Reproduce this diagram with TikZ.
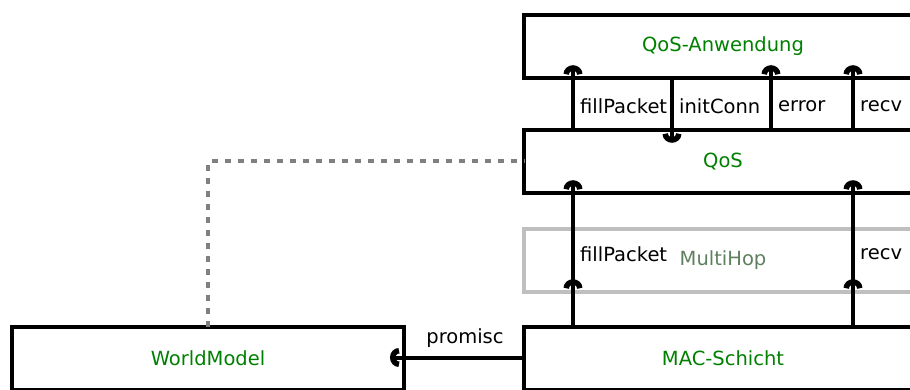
\documentclass[tikz,border=0pt]{standalone}
\usepackage{fontspec}
\setmainfont{DejaVu Sans}
\usetikzlibrary{arrows.meta}
\definecolor{nodegreen}{HTML}{008000}
\definecolor{hopgreen}{HTML}{5F805F}
\begin{document}
\begin{tikzpicture}[x=1pt,y=-1pt,
  layer/.style={draw=black, line width=4pt, minimum width=398pt, minimum height=63.5pt,
    outer sep=0pt, inner sep=0pt, text=nodegreen, font=\fontsize{19.5}{23}\selectfont},
  ghost/.style={layer, draw=black!25, text=hopgreen},
  conn/.style={line width=4pt, -{Arc Barb[length=9pt,width=19pt,line width=5.5pt 0]}},
  lbl/.style={anchor=west, inner sep=0pt, font=\fontsize{19.5}{23}\selectfont},
  link/.style={draw=black!50, line width=4pt, dash pattern=on 6pt off 7pt}]
\useasboundingbox (0,0) rectangle (910,390);
\node[layer] (app) at (723,46.5) {QoS-Anwendung};
\node[layer] (qos) at (723,161.5) {QoS};
\node[ghost] (hop) at (723,260.5) {MultiHop};
\node[layer] (mac) at (723,358.5) {MAC-Schicht};
\node[layer, minimum width=392pt] (wm) at (208,358.5) {WorldModel};
% upper connectors
\draw[conn, shorten >=-13pt] ([xshift=-150pt]qos.north) -- ([xshift=-150pt]app.south);
\draw[conn, shorten >=-13pt] ([xshift=-51pt]app.south) -- ([xshift=-51pt]qos.north);
\draw[conn, shorten >=-13pt] ([xshift=48pt]qos.north) -- ([xshift=48pt]app.south);
\draw[conn, shorten >=-13pt] ([xshift=130pt]qos.north) -- ([xshift=130pt]app.south);
\node[lbl] (l1) at (580,106) {fillPacket};
\node[lbl] (l2) at (679,106) {initConn};
\node[lbl] (l3) at (778,106) {error};
\node[lbl] (l4) at (860,106) {recv};
% lower connectors
\draw[conn, shorten >=-13pt] ([xshift=-150pt]mac.north) -- ([xshift=-150pt]qos.south);
\draw[conn, shorten >=-13pt] ([xshift=-150pt]mac.north) -- ([xshift=-150pt]hop.south);
\draw[conn, shorten >=-13pt] ([xshift=130pt]mac.north) -- ([xshift=130pt]qos.south);
\draw[conn, shorten >=-13pt] ([xshift=130pt]mac.north) -- ([xshift=130pt]hop.south);
\node[lbl] (l5) at (580,254) {fillPacket};
\node[lbl] (l6) at (860,254) {recv};
% promisc
\draw[conn, shorten >=-14pt] ([yshift=1pt]mac.west) -- ([yshift=1pt]wm.east);
\node[lbl, anchor=center] (l7) at (465,338) {promisc};
% dotted link
\coordinate (bend) at (wm.north |- qos.west);
\draw[link] (wm.north) -- (bend) -- (qos.west);
\end{tikzpicture}
\end{document}
